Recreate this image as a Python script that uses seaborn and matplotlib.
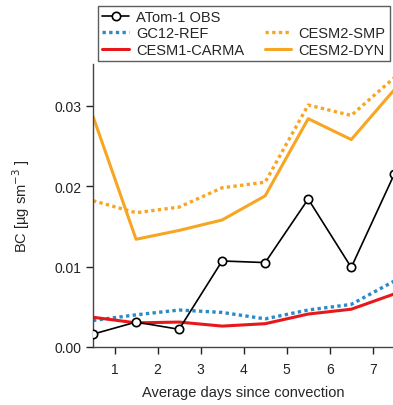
import matplotlib
matplotlib.use("Agg")
import matplotlib.pyplot as plt
from matplotlib.lines import Line2D
import numpy as np
import pandas as pd
import seaborn as sns

# Average days since convection (bin centres)
days = [0.5, 1.5, 2.5, 3.5, 4.5, 5.5, 6.5, 7.5]

# BC mass concentration [ug sm^-3]
atom1_obs = [0.0016, 0.0031, 0.0022, 0.0107, 0.0105, 0.0184, 0.0099, 0.0215]
gc12_ref = [0.0033, 0.0040, 0.0046, 0.0043, 0.0035, 0.0046, 0.0053, 0.0082]
cesm1_carma = [0.0037, 0.0030, 0.0031, 0.0026, 0.0029, 0.0041, 0.0047, 0.0066]
cesm2_smp = [0.0182, 0.0167, 0.0174, 0.0198, 0.0205, 0.0301, 0.0288, 0.0335]
cesm2_dyn = [0.0287, 0.0134, 0.0145, 0.0158, 0.0188, 0.0284, 0.0258, 0.0320]

x_ticks = [1, 2, 3, 4, 5, 6, 7]
y_ticks = [0.00, 0.01, 0.02, 0.03]

sns.set_style("ticks")
plt.rcParams["font.family"] = ["Liberation Sans", "DejaVu Sans"]
plt.rcParams["font.size"] = 10

ORANGE = "#F6A623"
BLUE = "#2A8BC6"
RED = "#E8171C"

fig = plt.figure(figsize=(3.93, 4.06), dpi=100)
ax = fig.add_axes([93 / 393, 58 / 406, 1 - 93 / 393, 283 / 406])

dot = (0, (1.0, 1.0))
series = [
    ("CESM2-SMP", cesm2_smp, dict(color=ORANGE, lw=2.4, linestyle=dot)),
    ("CESM2-DYN", cesm2_dyn, dict(color=ORANGE, lw=2.2, linestyle="-")),
    ("GC12-REF", gc12_ref, dict(color=BLUE, lw=2.4, linestyle=dot)),
    ("CESM1-CARMA", cesm1_carma, dict(color=RED, lw=2.2, linestyle="-")),
]
for name, vals, kw in series:
    df = pd.DataFrame({"days": days, "bc": vals})
    sns.lineplot(data=df, x="days", y="bc", ax=ax, legend=False, **kw)

df_obs = pd.DataFrame({"days": days, "bc": atom1_obs})
sns.lineplot(data=df_obs, x="days", y="bc", ax=ax, legend=False, color="black",
             lw=1.2, marker="o", markersize=6, markerfacecolor="white",
             markeredgecolor="black", markeredgewidth=1.2, zorder=5)

ax.set_xlim(0.5, 7.47)
ax.set_ylim(0, 0.0352)
ax.set_xticks(x_ticks)
ax.set_yticks(y_ticks)
ax.set_yticklabels([f"{v:.2f}" for v in y_ticks])
ax.tick_params(direction="out", length=5, width=1, labelsize=10, colors="#222222")
ax.tick_params(axis="x", pad=6)
for s in ["top", "right"]:
    ax.spines[s].set_visible(False)
for s in ["left", "bottom"]:
    ax.spines[s].set_color("#444444")
    ax.spines[s].set_linewidth(1)

ax.set_xlabel("Average days since convection", fontsize=10.5, labelpad=6)
ax.set_ylabel("BC [µg sm$^{-3}$ ]", fontsize=10.5, labelpad=16)

handles = [
    Line2D([], [], color="black", lw=1.2, marker="o", markersize=6,
           markerfacecolor="white", markeredgewidth=1.2),
    Line2D([], [], color=BLUE, lw=2.4, linestyle=dot),
    Line2D([], [], color=RED, lw=2.2),
    Line2D([], [], color="none"),
    Line2D([], [], color=ORANGE, lw=2.4, linestyle=dot),
    Line2D([], [], color=ORANGE, lw=2.2),
]
labels = ["ATom-1 OBS", "GC12-REF", "CESM1-CARMA", "", "CESM2-SMP", "CESM2-DYN"]
leg = fig.legend(handles, labels, ncol=2, loc="lower left",
                 bbox_to_anchor=(98 / 393, 1 - 62 / 406, 292 / 393, 52 / 406),
                 mode="expand", frameon=True, fancybox=False, fontsize=10.5,
                 handlelength=1.8, handletextpad=0.5, labelspacing=0.15,
                 borderpad=0.3, columnspacing=1.0, borderaxespad=0)
leg.get_frame().set_edgecolor("#333333")
leg.get_frame().set_linewidth(1.0)

fig.savefig("out.png", dpi=100)
